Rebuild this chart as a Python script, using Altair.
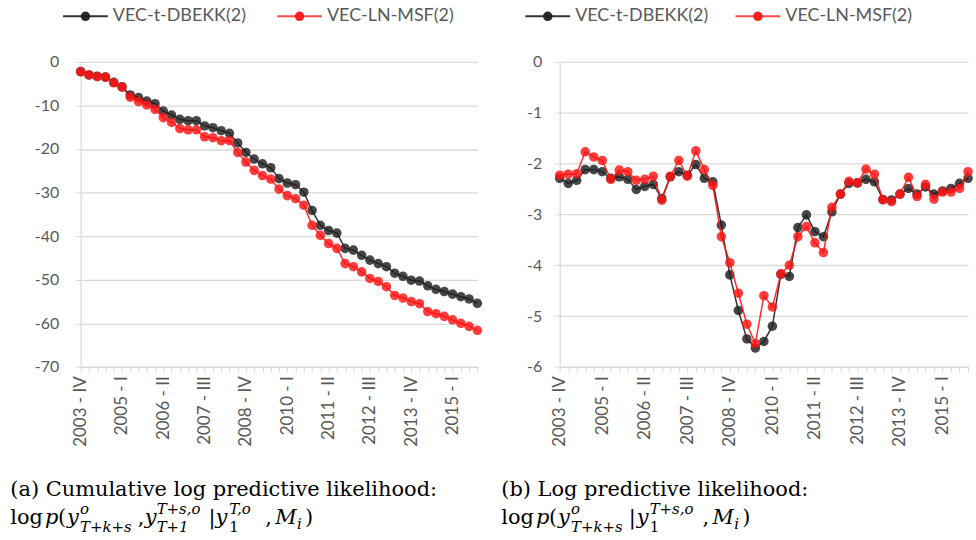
import json
import altair as alt
import pandas as pd

# ---------------- data ----------------
quarters = [f"{y} - {q}" for y in range(2003, 2016) for q in ("I", "II", "III", "IV")][3:]  # 2003-IV .. 2015-IV
tick_labels = quarters[::5]
series_names = ["VEC-t-DBEKK(2)", "VEC-LN-MSF(2)"]
series_colors = ["#1e1e1e", "#ff1414"]

cum_dbekk = [-2.2, -3.0, -3.3, -3.5, -4.7, -5.7, -7.6, -8.2, -9.0, -9.6,
             -11.3, -12.2, -13.2, -13.5, -13.5, -14.7, -15.1, -15.8, -16.4, -18.6,
             -20.8, -22.3, -23.4, -24.3, -26.8, -27.8, -28.2, -29.9, -34.1, -37.5,
             -38.7, -39.3, -42.8, -43.2, -44.4, -45.5, -46.3, -47.0, -48.5, -49.2,
             -50.1, -50.3, -51.4, -52.2, -52.7, -53.3, -53.9, -54.4, -55.4]
cum_msf = [-2.3, -3.0, -3.4, -3.5, -4.8, -5.8, -8.1, -9.1, -9.9, -10.9,
           -12.8, -13.9, -15.3, -15.6, -15.6, -17.2, -17.4, -18.1, -18.1, -20.8,
           -23.0, -24.9, -26.1, -26.9, -29.2, -30.7, -31.4, -32.9, -37.5, -39.8,
           -41.7, -42.8, -46.3, -47.0, -48.2, -49.7, -50.4, -51.6, -53.6, -54.2,
           -55.0, -55.5, -57.3, -57.8, -58.4, -59.2, -60.0, -60.7, -61.6]
lpl_dbekk = [-2.29, -2.39, -2.33, -2.12, -2.12, -2.16, -2.29, -2.26, -2.31, -2.51,
             -2.45, -2.41, -2.69, -2.26, -2.16, -2.23, -2.02, -2.29, -2.36, -3.21,
             -4.19, -4.89, -5.45, -5.63, -5.50, -5.20, -4.18, -4.22, -3.26, -3.01,
             -3.34, -3.44, -2.95, -2.60, -2.39, -2.38, -2.31, -2.36, -2.71, -2.72,
             -2.60, -2.49, -2.60, -2.46, -2.60, -2.54, -2.49, -2.39, -2.29]
lpl_msf = [-2.23, -2.21, -2.20, -1.77, -1.87, -1.94, -2.31, -2.13, -2.16, -2.33,
           -2.31, -2.25, -2.72, -2.25, -1.94, -2.25, -1.75, -2.12, -2.43, -3.44,
           -3.95, -4.55, -5.16, -5.54, -4.60, -4.82, -4.17, -4.00, -3.44, -3.24,
           -3.56, -3.75, -2.86, -2.60, -2.35, -2.38, -2.11, -2.21, -2.71, -2.75,
           -2.60, -2.27, -2.65, -2.41, -2.70, -2.56, -2.56, -2.49, -2.16]

# ---------------- layout constants ----------------
OX, OY = 80.7, 60.7           # left plot origin in the page
LW, RW, H = 398.3, 410.0, 306.3
GAP = 82.0
GRAY_TXT = "#595959"
GRID = "#d9d9d9"
SERIF = "DejaVu Serif"
one = pd.DataFrame({"k": [0]})
n = len(quarters)


def frame(black, red):
    return pd.DataFrame({
        "idx": list(range(n)) * 2,
        "quarter": quarters * 2,
        "series": [series_names[0]] * n + [series_names[1]] * n,
        "value": black + red,
    })


label_expr = "datum.value % 5 == 0 ? " + json.dumps(tick_labels) + "[datum.value / 5] : ''"


def series_layers(df, ydom, yvals, lab_pad):
    xaxis = alt.Axis(values=list(range(n)), labelExpr=label_expr, labelAngle=270,
                     labelFontSize=17, labelColor=GRAY_TXT, labelFont="Lato",
                     tickColor=GRID, tickSize=5, domainColor=GRID, domainWidth=1.3,
                     grid=False, title=None, labelPadding=4, labelOverlap=False,
                     labelFlush=False, labelBound=False)
    yaxis = alt.Axis(values=yvals, labelExpr="'' + datum.value", grid=True, gridColor=GRID,
                     gridWidth=1.3, tickColor=GRID, tickSize=5, domainColor=GRID,
                     domainWidth=1.3, labelPadding=lab_pad, labelFontSize=16,
                     labelColor=GRAY_TXT, labelFont="Lato", title=None)
    x = alt.X("idx:Q", scale=alt.Scale(domain=[0, n - 1], nice=False, zero=False), axis=xaxis)
    y = alt.Y("value:Q", scale=alt.Scale(domain=ydom, nice=False, zero=False), axis=yaxis)
    layers = []
    for name, color in zip(series_names, series_colors):
        b = alt.Chart(df).transform_filter(alt.datum.series == name).encode(x=x, y=y)
        layers.append(b.mark_line(color=color, strokeWidth=1.5, opacity=0.9))
        layers.append(b.mark_circle(color=color, size=92, opacity=0.82))
    return layers


def legend_layers(offsets, ly=-45.7):
    out = []
    line_colors = ["#333333", "#ff4a4a"]
    for name, color, lc, x0 in zip(series_names, series_colors, line_colors, offsets):
        out.append(alt.Chart(one).mark_rule(color=lc, strokeWidth=2).encode(
            x=alt.value(x0), x2=alt.value(x0 + 45), y=alt.value(ly)))
        out.append(alt.Chart(one).mark_circle(color=color, size=90, opacity=0.95).encode(
            x=alt.value(x0 + 22.5), y=alt.value(ly)))
        out.append(alt.Chart(one).mark_text(align="left", baseline="middle", fontSize=18,
                                            font="Lato", color=GRAY_TXT).encode(
            x=alt.value(x0 + 50), y=alt.value(ly), text=alt.value(name)))
    return out


# caption pieces: (text, x in page, baseline shift, size, style)
B1, B2 = 497.0, 525.0
SUP, SUB, SS = -10, 8, 15
cap_lines = [
    ("(a) Cumulative log predictive likelihood:", 10, B1, 21, "normal"),
    ("(b) Log predictive likelihood:", 503, B1, 21, "normal"),
]
cap_a = [("log", 10, 0, 21, "normal"), ("p", 45, 0, 21, "italic"), ("(", 58, 0, 21, "normal"),
         ("y", 67, 0, 21, "italic"), ("o", 80, SUP, SS, "italic"), ("T+k+s", 80, SUB, SS, "italic"),
         (",", 138, 0, 21, "normal"), ("y", 145, 0, 21, "italic"),
         ("T+s,o", 157, SUP, SS, "italic"), ("T+1", 157, SUB, SS, "italic"),
         ("|", 209, 0, 21, "normal"), ("y", 216, 0, 21, "italic"),
         ("T,o", 230, SUP, SS, "italic"), ("1", 230, SUB, SS, "normal"),
         (",", 266, 0, 21, "normal"), ("M", 276, 0, 21, "italic"), ("i", 298, 5, SS, "italic"),
         (")", 306, 0, 21, "normal")]
cap_b = [("log", 503, 0, 21, "normal"), ("p", 538, 0, 21, "italic"), ("(", 551, 0, 21, "normal"),
         ("y", 560, 0, 21, "italic"), ("o", 573, SUP, SS, "italic"), ("T+k+s", 573, SUB, SS, "italic"),
         ("|", 631, 0, 21, "normal"), ("y", 639, 0, 21, "italic"),
         ("T+s,o", 652, SUP, SS, "italic"), ("1", 652, SUB, SS, "normal"),
         (",", 705, 0, 21, "normal"), ("M", 715, 0, 21, "italic"), ("i", 737, 5, SS, "italic"),
         (")", 745, 0, 21, "normal")]


def caption_layers():
    out = []
    for txt, px, py, size, style in cap_lines:
        out.append(alt.Chart(one).mark_text(align="left", baseline="alphabetic", fontSize=size,
                                            font=SERIF, color="#000000").encode(
            x=alt.value(px - OX), y=alt.value(py - OY), text=alt.value(txt)))
    for txt, px, dy, size, style in cap_a + cap_b:
        out.append(alt.Chart(one).mark_text(align="left", baseline="alphabetic", fontSize=size,
                                            font=SERIF, fontStyle=style,
                                            color="#000000").encode(
            x=alt.value(px - OX), y=alt.value(B2 + dy - OY), text=alt.value(txt)))
    return out


# invisible frame that fixes the page extent (976 x 540)
page = alt.Chart(one).mark_rect(opacity=0).encode(
    x=alt.value(-OX), x2=alt.value(976 - OX), y=alt.value(-OY), y2=alt.value(540 - OY))

left = alt.layer(
    *series_layers(frame(cum_dbekk, cum_msf), [-70, 0], list(range(-70, 1, 10)), 17),
    *legend_layers([-17.7, 197.3]),
    *caption_layers(),
    page,
).properties(width=LW, height=H)

right = alt.layer(
    *series_layers(frame(lpl_dbekk, lpl_msf), [-6, 0], list(range(-6, 1)), 13),
    *legend_layers([-34.5, 176.5]),
).properties(width=RW, height=H)

chart = alt.hconcat(left, right, spacing=GAP, bounds="flush").properties(
    padding=0, background="white"
).configure_view(stroke=None)

chart.save("out.html", embed_options={"renderer": "svg", "actions": False})
